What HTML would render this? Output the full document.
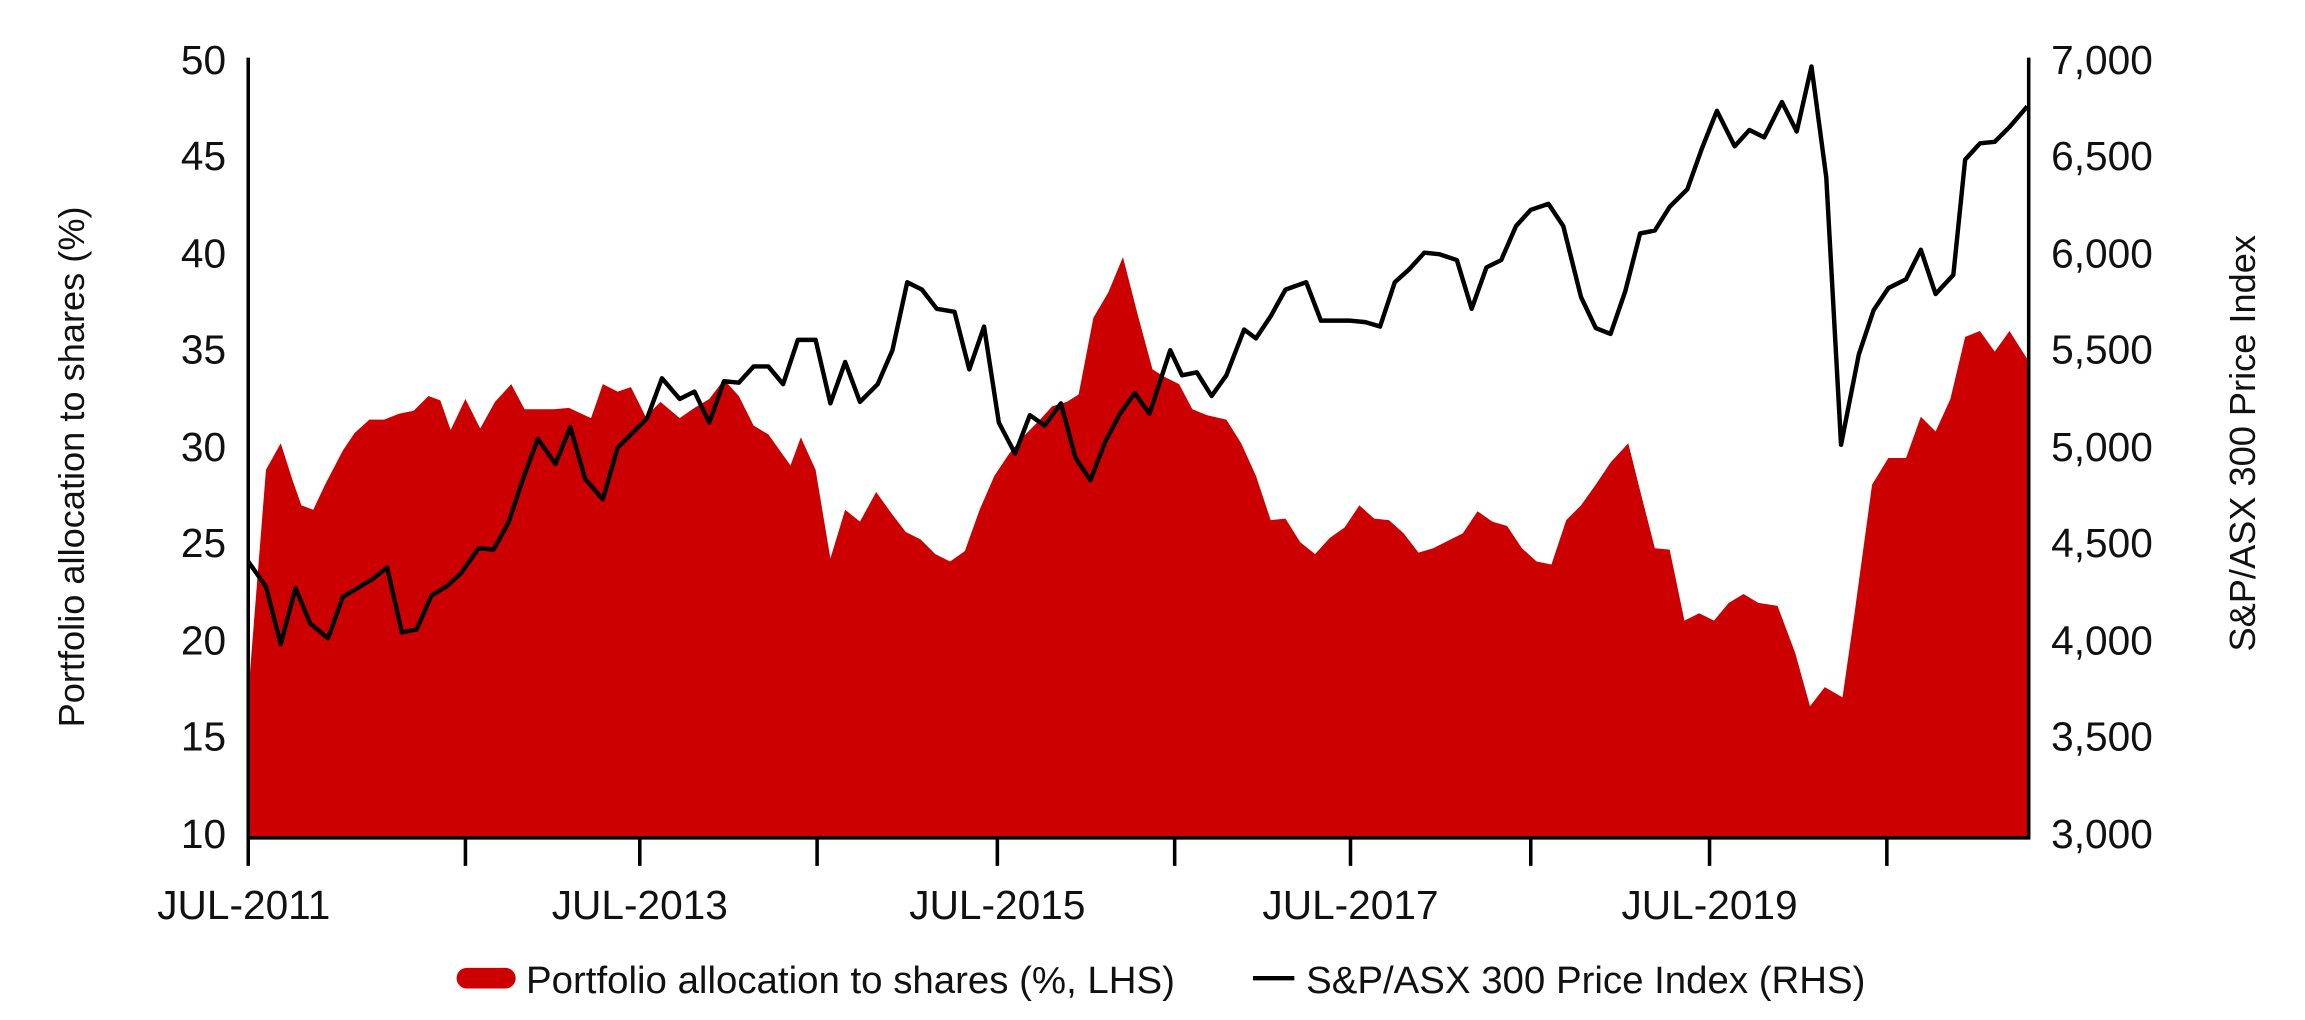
<!DOCTYPE html>
<html><head><meta charset="utf-8"><style>
html,body{margin:0;padding:0;background:#fff;}
svg{display:block;}
text{font-family:"Liberation Sans",sans-serif;fill:#111;}
</style></head><body>
<svg width="2305" height="1020" viewBox="0 0 1560 690.3" preserveAspectRatio="none" xmlns="http://www.w3.org/2000/svg">
<polygon fill="#cc0000" points="168,564 168,470 180,318 190,300 198,325 204,342 212,345 220,328 232,305 240,293 250,284 260,284 270,280 280,278 290,268 298,271 305,291 315,270 325,290 335,272 346,260 355,277 375,277 385,276 400,283 408,260 418,265 427,262 437,282 447,272 460,283 470,276 480,270 490,257 500,268 510,288 520,294 535,315 542,296 552,318 562,378 572,345 582,353 593,333 603,347 613,360 623,365 633,375 643,380 653,373 663,345 673,322 683,307 693,295 703,285 712,275 722,272 730,267 740,215 750,198 760,174 770,213 780,250 788,255 798,260 807,277 817,281 830,284 840,300 850,322 860,352 870,351 880,367 890,375 900,364 910,357 920,342 930,351 940,352 950,361 960,374 970,371 980,366 990,361 1000,346 1010,353 1020,356 1030,371 1040,380 1050,382 1060,352 1070,342 1080,328 1090,313 1102,300 1110,332 1120,371 1130,372 1140,420 1150,415 1160,420 1170,408 1180,402 1190,408 1203,410 1215,442 1225,478 1235,465 1247,472 1255,416 1267,328 1278,310 1290,310 1300,282 1310,292 1320,270 1330,228 1340,224 1350,238 1360,224 1372,243 1372,566 168,566"/>
<polyline fill="none" stroke="#000" stroke-width="3" stroke-linejoin="round" points="168,380 180,397 190,436 200,398 210,422 222,432 232,404 242,398 252,392 262,384 272,428 282,426 292,403 302,397 312,388 324,371 334,372 344,354 354,324 364,297 376,314 386,289 396,324 408,338 418,303 428,293 438,283 448,256 460,270 470,265 480,286 490,258 500,259 510,248 520,248 530,260 540,230 552,230 562,273 572,245 582,272 594,260 604,237 614,191 624,196 634,209 646,211 656,250 666,221 676,286 687,307 697,281 707,288 718,273 728,310 738,325 748,299 758,280 768,266 778,280 792,237 800,254 810,252 820,268 830,254 842,223 850,229 860,214 870,196 884,191 894,217 904,217 914,217 924,218 934,221 944,191 954,182 964,171 974,172 986,176 996,209 1006,181 1016,176 1026,153 1036,142 1048,138 1058,153 1070,201 1080,222 1090,226 1100,197 1110,158 1120,156 1130,140 1142,128 1152,100 1162,75 1174,99 1184,88 1194,93 1206,69 1216,89 1226,45 1236,120 1246,301 1258,240 1268,210 1278,195 1290,189 1300,169 1310,199 1322,186 1330,108 1340,97 1350,96 1360,86 1372,72"/>
<g stroke="#000" stroke-width="2.4">
<line x1="168" y1="39" x2="168" y2="586"/>
<line x1="1373" y1="39" x2="1373" y2="568"/>
<line x1="167" y1="567" x2="1374" y2="567"/>
<line x1="315" y1="567" x2="315" y2="586"/>
<line x1="433" y1="567" x2="433" y2="586"/>
<line x1="553" y1="567" x2="553" y2="586"/>
<line x1="675" y1="567" x2="675" y2="586"/>
<line x1="795" y1="567" x2="795" y2="586"/>
<line x1="914" y1="567" x2="914" y2="586"/>
<line x1="1036" y1="567" x2="1036" y2="586"/>
<line x1="1157" y1="567" x2="1157" y2="586"/>
<line x1="1277" y1="567" x2="1277" y2="586"/>
</g>
<g font-size="27.5" text-anchor="end">
<text x="153" y="50">50</text><text x="153" y="115">45</text><text x="153" y="181">40</text>
<text x="153" y="246">35</text><text x="153" y="312">30</text><text x="153" y="377">25</text>
<text x="153" y="443">20</text><text x="153" y="508">15</text><text x="153" y="574">10</text>
</g>
<g font-size="27.5" text-anchor="end">
<text x="1457" y="50">7,000</text><text x="1457" y="115">6,500</text><text x="1457" y="181">6,000</text>
<text x="1457" y="246">5,500</text><text x="1457" y="312">5,000</text><text x="1457" y="377">4,500</text>
<text x="1457" y="443">4,000</text><text x="1457" y="508">3,500</text><text x="1457" y="574">3,000</text>
</g>
<g font-size="27.5" text-anchor="middle">
<text x="165" y="622">JUL-2011</text><text x="433" y="622">JUL-2013</text>
<text x="675" y="622">JUL-2015</text><text x="914" y="622">JUL-2017</text><text x="1157" y="622">JUL-2019</text>
</g>
<text font-size="24.5" text-anchor="middle" transform="translate(57,316) rotate(-90)">Portfolio allocation to shares (%)</text>
<text font-size="24.5" text-anchor="middle" transform="translate(1526,300) rotate(-90)">S&amp;P/ASX 300 Price Index</text>
<rect x="309" y="655" width="40" height="14" rx="7" fill="#cc0000"/>
<text x="356" y="672" font-size="26">Portfolio allocation to shares (%, LHS)</text>
<line x1="848" y1="662" x2="876" y2="662" stroke="#000" stroke-width="3"/>
<text x="884" y="672" font-size="26">S&amp;P/ASX 300 Price Index (RHS)</text>
</svg>
</body></html>
